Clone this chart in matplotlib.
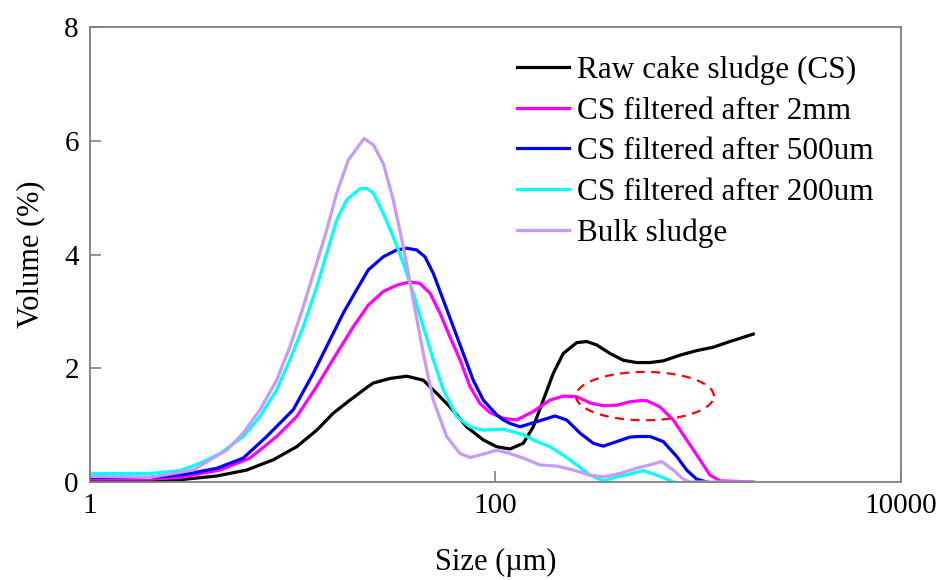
import numpy as np
import matplotlib
matplotlib.use("Agg")
import matplotlib.pyplot as plt

plt.rcParams['font.family'] = ['Liberation Serif', 'DejaVu Serif']

# particle size (um) and volume (%)
raw_x = [1, 1.98, 2.78, 4.22, 5.93, 8.02, 10.46, 13.13, 15.85, 19.16, 23.59, 24.96, 30.17,
         36.49, 44.05, 51.29, 59.65, 72.09, 87.07, 101.4, 117.9, 137.1, 153.6, 172.1, 192.8,
         216.0, 251.5, 281.8, 315.7, 367.1, 426.9, 497.3, 578.1, 672.4, 812.8, 982.4, 1186,
         1434, 1869]
raw_y = [0.02, 0.02, 0.04, 0.105, 0.21, 0.39, 0.62, 0.91, 1.21, 1.44, 1.68, 1.74, 1.82,
         1.86, 1.79, 1.56, 1.32, 0.97, 0.74, 0.62, 0.58, 0.68, 0.97, 1.44, 1.91,
         2.26, 2.45, 2.47, 2.41, 2.26, 2.14, 2.10, 2.10, 2.13, 2.23, 2.31, 2.37,
         2.47, 2.60]

f2mm_x = [1, 1.98, 2.78, 4.38, 6.15, 8.33, 10.46, 13.13, 16.48, 19.89, 23.59, 27.97, 32.56,
          37.88, 42.43, 47.53, 53.25, 59.65, 66.82, 74.84, 83.86, 93.96, 109.3, 127.2, 153.6,
          185.7, 216.0, 251.5, 292.6, 340.2, 396.1, 460.7, 516.3, 556.9, 647.7, 753.3, 877.0,
          1020, 1143, 1280, 1869]
f2mm_y = [0.05, 0.05, 0.08, 0.21, 0.42, 0.80, 1.15, 1.68, 2.26, 2.73, 3.11, 3.35, 3.46,
          3.52, 3.49, 3.32, 2.97, 2.55, 2.15, 1.68, 1.38, 1.22, 1.12, 1.09, 1.24,
          1.44, 1.51, 1.50, 1.39, 1.34, 1.35, 1.41, 1.43, 1.43, 1.32, 1.09, 0.74,
          0.39, 0.12, 0.02, 0.0]

f500_x = [1, 1.98, 2.78, 4.22, 5.70, 7.44, 10.06, 12.63, 15.27, 17.76, 20.67, 23.59, 27.97,
          32.56, 36.49, 40.87, 44.91, 49.34, 55.28, 61.92, 69.37, 77.70, 87.07, 101.4, 109.3,
          117.9, 132.1, 159.7, 196.6, 224.5, 261.1, 303.8, 340.2, 396.1, 460.7, 516.3, 578.1,
          672.4, 783.0, 877.0, 982.4, 1101]
f500_y = [0.08, 0.08, 0.12, 0.24, 0.42, 0.80, 1.27, 1.91, 2.50, 2.97, 3.38, 3.73, 3.96,
          4.08, 4.11, 4.08, 3.96, 3.67, 3.20, 2.73, 2.26, 1.79, 1.44, 1.18, 1.09,
          1.03, 0.97, 1.06, 1.16, 1.09, 0.86, 0.68, 0.63, 0.71, 0.79, 0.80, 0.80,
          0.71, 0.45, 0.21, 0.05, 0.0]

f200_x = [1, 1.98, 2.78, 3.49, 4.38, 5.70, 6.90, 8.33, 9.69, 11.27, 13.13, 14.71, 16.48,
          18.46, 21.46, 23.16, 24.96, 27.97, 31.32, 35.11, 39.33, 44.05, 49.34, 55.28, 64.36,
          74.84, 87.07, 109.3, 137.1, 159.7, 185.7, 216.0, 251.5, 292.6, 340.2, 396.1, 460.7,
          535.8, 624.0, 753.3]
f200_y = [0.15, 0.15, 0.20, 0.33, 0.50, 0.80, 1.15, 1.62, 2.15, 2.73, 3.43, 4.02, 4.61,
          4.96, 5.16, 5.16, 5.08, 4.72, 4.31, 3.85, 3.32, 2.73, 2.15, 1.62, 1.15,
          0.97, 0.91, 0.93, 0.83, 0.71, 0.62, 0.47, 0.30, 0.12, 0.02, 0.09, 0.14,
          0.20, 0.12, 0.0]

bulk_x = [1, 1.98, 3.23, 3.91, 4.72, 5.70, 6.90, 8.33, 9.69, 11.27, 13.13, 14.71, 16.48,
          18.79, 22.5, 24.96, 27.97, 31.32, 35.11, 39.33, 44.05, 49.34, 57.45, 66.82, 74.84,
          87.07, 101.4, 117.9, 137.1, 165.8, 200.4, 242.0, 292.6, 340.2, 411.3, 516.3, 578.1,
          660.3, 753.3, 843.9, 910.5, 1869]
bulk_y = [0.10, 0.08, 0.21, 0.39, 0.56, 0.86, 1.27, 1.79, 2.38, 3.08, 3.85, 4.43, 5.08,
          5.66, 6.04, 5.93, 5.60, 4.96, 4.14, 3.20, 2.26, 1.44, 0.80, 0.50, 0.43,
          0.49, 0.56, 0.50, 0.42, 0.30, 0.28, 0.21, 0.12, 0.09, 0.15, 0.26, 0.30,
          0.36, 0.21, 0.05, 0.0, 0.0]

series = [
    ('Raw cake sludge (CS)', raw_x, raw_y, 'black'),
    ('CS filtered after 2mm', f2mm_x, f2mm_y, '#FF00FF'),
    ('CS filtered after 500um', f500_x, f500_y, '#0000FF'),
    ('CS filtered after 200um', f200_x, f200_y, '#00FFFF'),
    ('Bulk sludge', bulk_x, bulk_y, '#C79BF5'),
]

# dashed ellipse around the 2mm shoulder (centre in um, half-width in decades)
ell_cx, ell_cy = 546, 1.51
ell_a, ell_b = 0.34, 0.425

fig = plt.figure(figsize=(9.39, 5.80), dpi=100)
ax = fig.add_axes([0.0958, 0.169, 0.8637, 0.7844])

for name, xs, ys, col in series:
    ax.plot(xs, ys, color=col, lw=2.3, label=name, solid_joinstyle='round')

t = np.linspace(0, 2 * np.pi, 200)
ax.plot(10 ** (np.log10(ell_cx) + ell_a * np.cos(t)), ell_cy + ell_b * np.sin(t),
        '--', color='red', lw=1.6, dashes=(4, 3))

ax.set_xscale('log')
ax.set_xlim(1, 10000)
ax.set_ylim(0, 8)
ax.set_xticks([1, 100, 10000])
ax.set_xticklabels(['1', '100', '10000'])
ax.xaxis.set_minor_locator(matplotlib.ticker.NullLocator())
ax.set_yticks([0, 2, 4, 6, 8])

for s in ax.spines.values():
    s.set_color('#808080')
    s.set_linewidth(1.3)
ax.tick_params(direction='in', length=8, width=1.2, color='#808080',
               labelsize=21, pad=8)

ax.set_xlabel('Size (\u00b5m)', fontsize=22, labelpad=21)
ax.set_ylabel('Volume (%)', fontsize=22, labelpad=14)

ax.legend(loc='upper left', bbox_to_anchor=(0.5, 0.985), frameon=False, fontsize=22.5,
          handlelength=1.66, handletextpad=0.26, labelspacing=0.37, borderaxespad=0.3)

fig.savefig('out.png', dpi=100)
